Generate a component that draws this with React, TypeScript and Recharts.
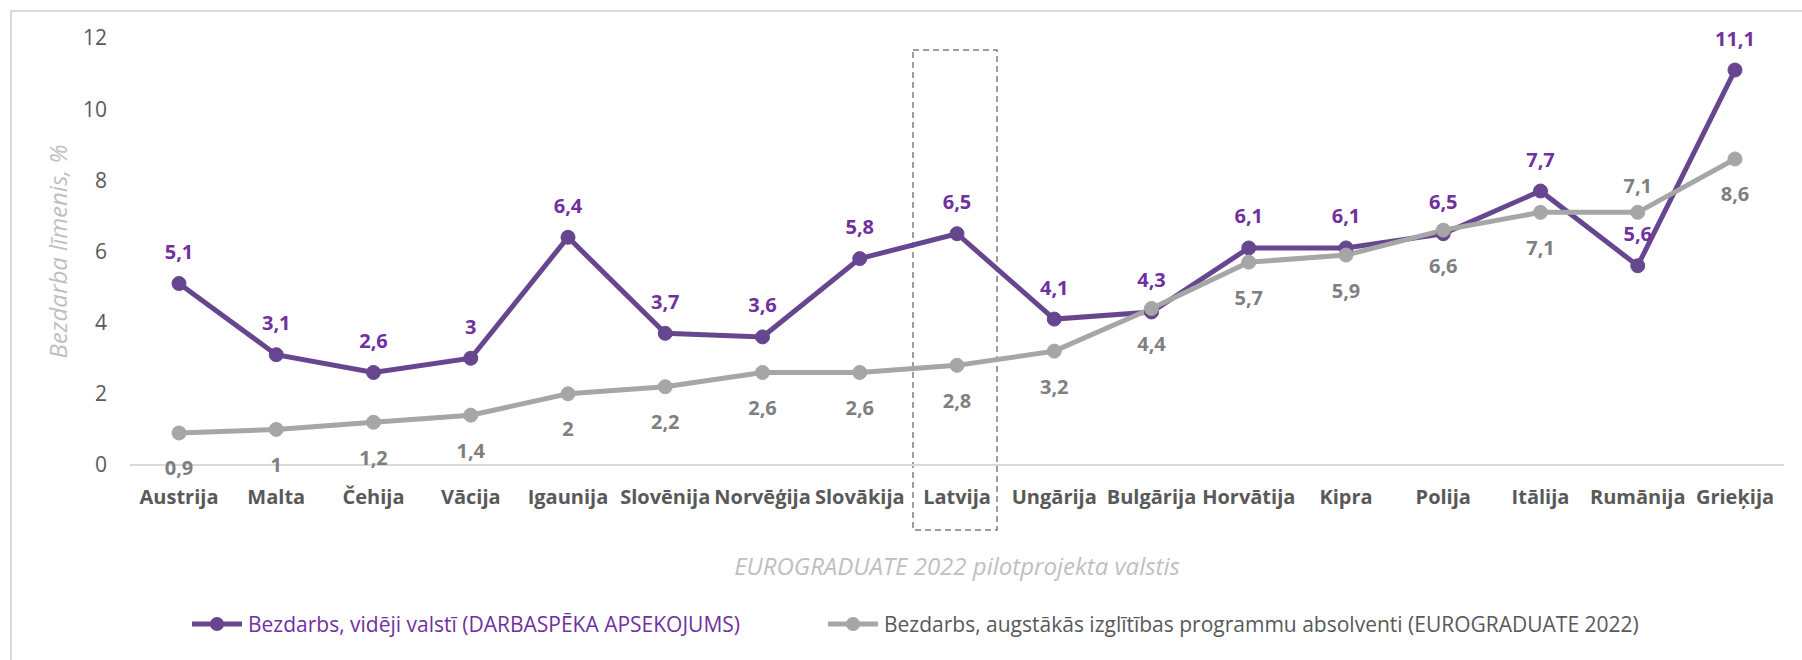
import React from 'react';
import { LineChart, Line, XAxis, YAxis, Legend, LabelList, ReferenceLine } from 'recharts';

const countries = [
  'Austrija', 'Malta', 'Čehija', 'Vācija', 'Igaunija', 'Slovēnija', 'Norvēģija', 'Slovākija', 'Latvija',
  'Ungārija', 'Bulgārija', 'Horvātija', 'Kipra', 'Polija', 'Itālija', 'Rumānija', 'Grieķija',
];
const laborSurvey = [5.1, 3.1, 2.6, 3, 6.4, 3.7, 3.6, 5.8, 6.5, 4.1, 4.3, 6.1, 6.1, 6.5, 7.7, 5.6, 11.1];
const graduates = [0.9, 1, 1.2, 1.4, 2, 2.2, 2.6, 2.6, 2.8, 3.2, 4.4, 5.7, 5.9, 6.6, 7.1, 7.1, 8.6];
const yTicks = [0, 2, 4, 6, 8, 10, 12];

const surveyName = 'Bezdarbs, vidēji valstī (DARBASPĒKA APSEKOJUMS)';
const graduatesName = 'Bezdarbs, augstākās izglītības programmu absolventi (EUROGRADUATE 2022)';
const highlighted = 'Latvija';
const seriesOrder = ['survey', 'graduates'];

const data = countries.map((country, i) => ({
  country,
  survey: laborSurvey[i],
  graduates: graduates[i],
}));

const PURPLE_LINE = '#66478f';
const PURPLE_TEXT = '#7030a0';
const GREY_LINE = '#a6a6a6';
const GREY_TEXT = '#7f7f7f';
const AXIS_TEXT = '#595959';
const FONT = '"Open Sans", "Noto Sans", sans-serif';

const fmt = (v: number) => String(v).replace('.', ',');

const pointOf = (p: any) => ({
  x: p.x ?? p.viewBox?.x ?? 0,
  y: p.y ?? p.viewBox?.y ?? 0,
});

const SurveyLabel = (p: any) => {
  const { x, y } = pointOf(p);
  return (
    <text x={x} y={y - 32} textAnchor="middle" dominantBaseline="central"
      fill={PURPLE_TEXT} fontSize={20} fontWeight={700} fontFamily={FONT}>
      {fmt(p.value)}
    </text>
  );
};

const GraduatesLabel = (p: any) => {
  const { x, y } = pointOf(p);
  // Rumānija: label sits above the point
  const above = countries[p.index] === 'Rumānija';
  return (
    <text x={x} y={above ? y - 27 : y + 35} textAnchor="middle" dominantBaseline="central"
      fill={GREY_TEXT} fontSize={20} fontWeight={700} fontFamily={FONT}>
      {fmt(p.value)}
    </text>
  );
};

const HighlightBox = (p: any) => {
  const cx = p.x1 ?? 0;
  const top = Math.min(p.y1 ?? 0, p.y2 ?? 0);
  const bottom = Math.max(p.y1 ?? 0, p.y2 ?? 0);
  return (
    <rect x={cx - 44} y={top + 12} width={84} height={bottom - top + 53}
      fill="none" stroke="#7f7f7f" strokeWidth={1.5} strokeDasharray="6 4" />
  );
};

const LegendMarker = ({ color }: { color: string }) => (
  <svg width={54} height={16} style={{ marginRight: 4 }}>
    <line x1={2} y1={8} x2={52} y2={8} stroke={color} strokeWidth={5} />
    <circle cx={27} cy={8} r={7} fill={color} />
  </svg>
);

const renderLegend = (props: any) => {
  const payload = [...(props.payload || [])].sort(
    (a: any, b: any) => seriesOrder.indexOf(a.dataKey) - seriesOrder.indexOf(b.dataKey),
  );
  return (
    <div style={{ display: 'flex', alignItems: 'center', fontFamily: FONT, fontSize: 21 }}>
      {payload.map((entry: any, i: number) => (
        <div key={i} style={{ display: 'flex', alignItems: 'center', marginRight: 86 }}>
          <LegendMarker color={entry.color} />
          <span style={{ color: entry.dataKey === 'survey' ? PURPLE_TEXT : AXIS_TEXT }}>{entry.value}</span>
        </div>
      ))}
    </div>
  );
};

export default function App() {
  return (
    <div style={{ position: 'absolute', left: 0, top: 0, width: 1802, height: 660, background: '#fff', overflow: 'hidden' }}>
      <div style={{ position: 'absolute', left: 10, top: 10, width: 1850, height: 700, border: '2px solid #d9d9d9' }} />
      <LineChart width={1802} height={660} data={data} margin={{ top: 38, right: 18, bottom: 0, left: 0 }}
        style={{ position: 'absolute', left: 0, top: 0 }}>
        <XAxis dataKey="country" height={195} padding={{ left: 49, right: 49 }}
          axisLine={{ stroke: '#d9d9d9', strokeWidth: 2 }} tickLine={false} tickSize={0} tickMargin={25}
          interval={0}
          tick={{ fill: AXIS_TEXT, fontSize: 20, fontWeight: 700, fontFamily: FONT }}
          label={{
            content: (lp: any) => {
              const vb = lp.viewBox || {};
              return (
                <text x={vb.x + vb.width / 2} y={vb.y + 100} textAnchor="middle" dominantBaseline="central"
                  fill="#bfbfbf" fontSize={24} fontStyle="italic" fontFamily={FONT}>
                  EUROGRADUATE 2022 pilotprojekta valstis
                </text>
              );
            },
          }}
        />
        <YAxis domain={[0, 12]} ticks={yTicks} width={130} axisLine={false} tickLine={false}
          tickSize={0} tickMargin={23}
          tick={{ fill: AXIS_TEXT, fontSize: 21, fontFamily: FONT }}
          label={{
            content: (lp: any) => {
              const vb = lp.viewBox || {};
              const cx = vb.x + 57;
              const cy = vb.y + vb.height / 2;
              return (
                <text x={cx} y={cy} transform={`rotate(-90 ${cx} ${cy})`} textAnchor="middle"
                  dominantBaseline="central" fill="#bfbfbf" fontSize={24} fontStyle="italic" fontFamily={FONT}>
                  Bezdarba līmenis, %
                </text>
              );
            },
          }}
        />
        <ReferenceLine x={highlighted} shape={HighlightBox} ifOverflow="visible" />
        <Legend layout="horizontal" verticalAlign="middle" align="center" content={renderLegend}
          wrapperStyle={{ top: 610, left: 190, width: 1600 }} />
        <Line name={surveyName} dataKey="survey" stroke={PURPLE_LINE} strokeWidth={5}
          dot={{ r: 7, fill: PURPLE_LINE, stroke: PURPLE_LINE, strokeWidth: 1 }} activeDot={false}
          isAnimationActive={false}>
          <LabelList dataKey="survey" content={SurveyLabel} />
        </Line>
        <Line name={graduatesName} dataKey="graduates" stroke={GREY_LINE} strokeWidth={5}
          dot={{ r: 7, fill: GREY_LINE, stroke: GREY_LINE, strokeWidth: 1 }} activeDot={false}
          isAnimationActive={false}>
          <LabelList dataKey="graduates" content={GraduatesLabel} />
        </Line>
      </LineChart>
    </div>
  );
}
